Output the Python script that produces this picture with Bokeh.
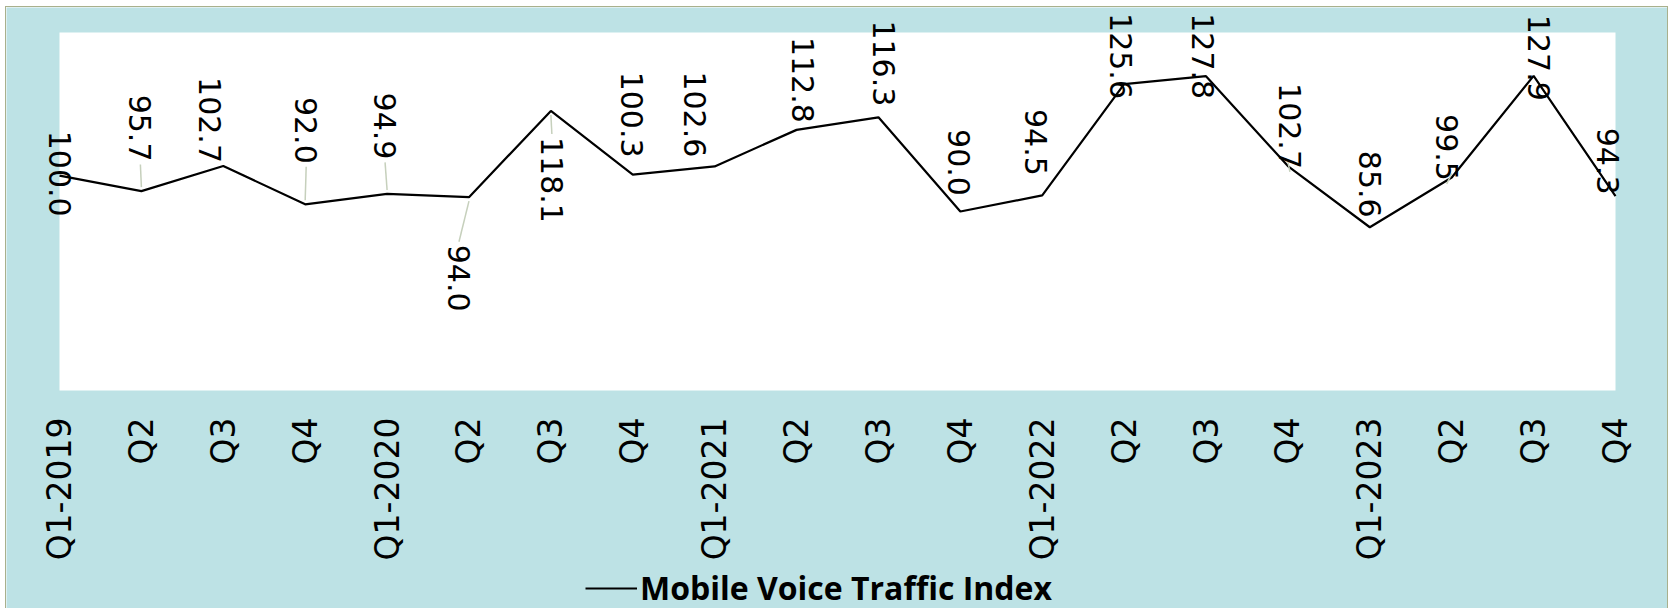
import math
from bokeh.plotting import figure
from bokeh.models import (Range1d, FixedTicker, ColumnDataSource, Legend,
                          LegendItem, LabelSet, BoxAnnotation)
from bokeh.embed import file_html
from bokeh.resources import INLINE
from bokeh.core.properties import value

# ---------------- data ----------------
quarters = ["Q1-2019", "Q2", "Q3", "Q4",
            "Q1-2020", "Q2", "Q3", "Q4",
            "Q1-2021", "Q2", "Q3", "Q4",
            "Q1-2022", "Q2", "Q3", "Q4",
            "Q1-2023", "Q2", "Q3", "Q4"]
index_values = [100.0, 95.7, 102.7, 92.0,
                94.9, 94.0, 118.1, 100.3,
                102.6, 112.8, 116.3, 90.0,
                94.5, 125.6, 127.8, 102.7,
                85.6, 99.5, 127.9, 94.3]
series_name = "Mobile Voice Traffic Index"

# ---------------- layout (label placement in screen px) ----------------
label_dx = [0, -1, -13, 1, -2, -10, 1, -1, -20, 6, 6, -1, -6, -3, -3, 2, 0, -5, 5, -8]
label_dy = [2, 63, 46, 74, 68, -81, -69, 60, 52, 50, 54, 49, 53, 28, 20, 40, 43, 30, 18, 35]
has_leader = [False, True, False, True, True, True, True, False, False, False,
              False, False, False, False, False, True, False, True, False, False]

PW, PH = 1556, 358                 # white plot area size in px
PAD_L, PAD_R, PAD_T = 53, 52, 25   # blue space around the white area (inside frame)
PAD_B = 219                        # blue space below the white area (axis labels + legend)
Y0, Y1 = 40, 140
n = len(index_values)
px_x = PW / (n - 1)
px_y = PH / (Y1 - Y0)

BG = "#bde2e5"
FONT = "DejaVu Sans"
LABEL_PX = 30

xs = list(range(n))
texts = ["%.1f" % v for v in index_values]
lx = [i + dx / px_x for i, dx in zip(xs, label_dx)]
ly = [v + dy / px_y for v, dy in zip(index_values, label_dy)]

def text_len(s):
    w = {".": 0.318}
    return sum(w.get(c, 0.636) for c in s) * LABEL_PX

sx0, sy0, sx1, sy1 = [], [], [], []
for i in range(n):
    if not has_leader[i]:
        continue
    dy = label_dy[i]
    sgn = 1 if dy > 0 else -1
    half = text_len(texts[i]) / 2
    end_px = abs(dy) - half - 3
    sx0.append(xs[i])
    sy0.append(index_values[i] + sgn * 4 / px_y)
    sx1.append(lx[i])
    sy1.append(index_values[i] + sgn * end_px / px_y)

x_range = Range1d(0 - PAD_L / px_x, (n - 1) + PAD_R / px_x)
y_range = Range1d(Y0 - PAD_B / px_y, Y1 + PAD_T / px_y)

p = figure(frame_width=PW + PAD_L + PAD_R, frame_height=PH + PAD_T + PAD_B,
           x_range=x_range, y_range=y_range,
           output_backend="svg", toolbar_location=None,
           y_axis_location=None,
           min_border_left=0, min_border_right=0,
           min_border_top=0, min_border_bottom=0,
           background_fill_color=BG, border_fill_color=BG)
p.outline_line_color = None
p.xgrid.visible = False
p.ygrid.visible = False
p.styles = {"border": "1px solid #a9b08c", "margin-left": "5px", "margin-top": "6px"}

# white plotting area
p.add_layout(BoxAnnotation(left=0, right=n - 1, bottom=Y0, top=Y1,
                           fill_color="white", fill_alpha=1, line_color=None,
                           level="underlay"))

src = ColumnDataSource(dict(x=xs, y=index_values))
line_r = p.line("x", "y", source=src, line_color="black", line_width=2.2)

p.segment(x0=sx0, y0=sy0, x1=sx1, y1=sy1, line_color="#c6d0bc", line_width=1.5)

lsrc = ColumnDataSource(dict(x=lx, y=ly, t=texts))
labels = LabelSet(x="x", y="y", text="t", source=lsrc, angle=-math.pi / 2,
                  text_align="center", text_baseline="middle",
                  text_font=value(FONT), text_font_size=value("%dpx" % LABEL_PX),
                  text_color="black")
p.add_layout(labels)

ax = p.xaxis[0]
ax.fixed_location = Y0
ax.ticker = FixedTicker(ticks=xs)
ax.major_label_overrides = {i: q for i, q in enumerate(quarters)}
ax.major_label_orientation = math.pi / 2
ax.major_label_standoff = 21
ax.major_tick_line_color = None
ax.minor_tick_line_color = None
ax.axis_line_color = None
ax.major_label_text_font = FONT
ax.major_label_text_font_size = "33px"
ax.major_label_text_color = "black"

legend = Legend(items=[LegendItem(label=series_name, renderers=[line_r])],
                location=(579, 0), orientation="horizontal",
                label_text_font="Open Sans", label_text_font_style="bold",
                label_text_font_size="32px", label_text_color="black",
                background_fill_alpha=0, border_line_color=None,
                glyph_width=52, glyph_height=30, label_height=30,
                padding=0, margin=0, spacing=0, label_standoff=3)
p.add_layout(legend)

open("out.html", "w").write(file_html(p, INLINE))
